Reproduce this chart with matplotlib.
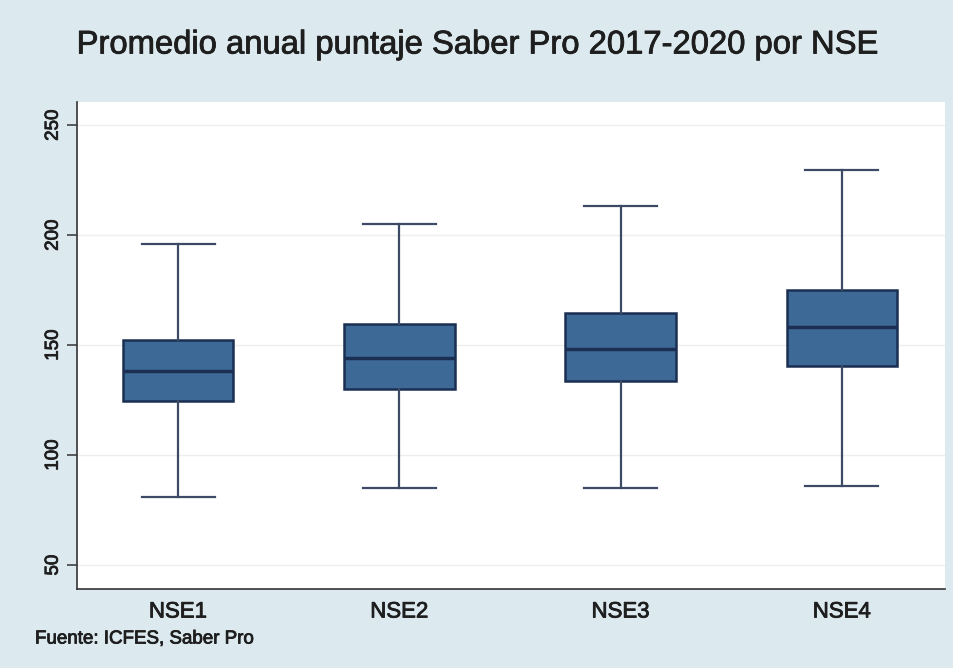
import matplotlib.pyplot as plt
import matplotlib.patheffects as pe

plt.rcParams['font.family'] = ['Liberation Sans', 'DejaVu Sans']

# Data
categories = ["NSE1", "NSE2", "NSE3", "NSE4"]
whisk_low = [81, 85, 85, 86]
q1 = [124.5, 130, 133.5, 140.5]
medians = [138, 144, 148, 158]
q3 = [152.5, 159.5, 164.5, 175]
whisk_high = [196, 205, 213, 229.5]

stats = []
for i, name in enumerate(categories):
    stats.append({"label": name, "whislo": whisk_low[i], "q1": q1[i],
                  "med": medians[i], "q3": q3[i], "whishi": whisk_high[i]})

bg = "#dceaf0"
box_fill = "#3d6996"
box_edge = "#1b2f52"
whisk_col = "#3c4a66"
txt = "#1e1e1e"
heavy = [pe.withStroke(linewidth=0.6, foreground=txt)]

fig = plt.figure(figsize=(9.54, 6.68), dpi=100)
fig.patch.set_facecolor(bg)
ax = fig.add_axes([77/954, 1-589/668, (945-77)/954, (589-102)/668])
ax.set_facecolor("white")

ax.bxp(stats, positions=[1, 2, 3, 4], widths=0.5, patch_artist=True, showfliers=False,
       boxprops=dict(facecolor=box_fill, edgecolor=box_edge, linewidth=1.8),
       medianprops=dict(color=box_edge, linewidth=2.5),
       whiskerprops=dict(color=whisk_col, linewidth=1.6),
       capprops=dict(color=whisk_col, linewidth=1.6),
       capwidths=0.33)

ax.set_xlim(0.543, 4.466)
ax.set_ylim(39.1, 260.5)
ax.set_yticks([50, 100, 150, 200, 250])
ax.tick_params(axis="y", labelrotation=90, labelsize=13.5, length=7, width=1.1,
               color="#333333", labelcolor=txt, pad=4)
for lab in ax.get_yticklabels():
    lab.set_va("center")
    lab.set_path_effects(heavy)
ax.tick_params(axis="x", length=0, labelsize=16, labelcolor=txt, pad=9)
ax.set_xticks([1, 2, 3, 4])
ax.set_xticklabels(categories)
for lab in ax.get_xticklabels():
    lab.set_path_effects(heavy)

ax.grid(axis="y", color="#eeeeee", linewidth=1)
ax.set_axisbelow(True)
for s in ["top", "right"]:
    ax.spines[s].set_visible(False)
for s in ["left", "bottom"]:
    ax.spines[s].set_color("#333333")
    ax.spines[s].set_linewidth(1.2)

fig.text(0.5, 1-45/668, "Promedio anual puntaje Saber Pro 2017-2020 por NSE",
         ha="center", va="center", fontsize=23.6, color=txt, path_effects=heavy)
fig.text(35/954, 1-639/668, "Fuente: ICFES, Saber Pro", ha="left", va="center",
         fontsize=13.5, color=txt, path_effects=heavy)

fig.savefig("out.png", dpi=100, facecolor=bg)
